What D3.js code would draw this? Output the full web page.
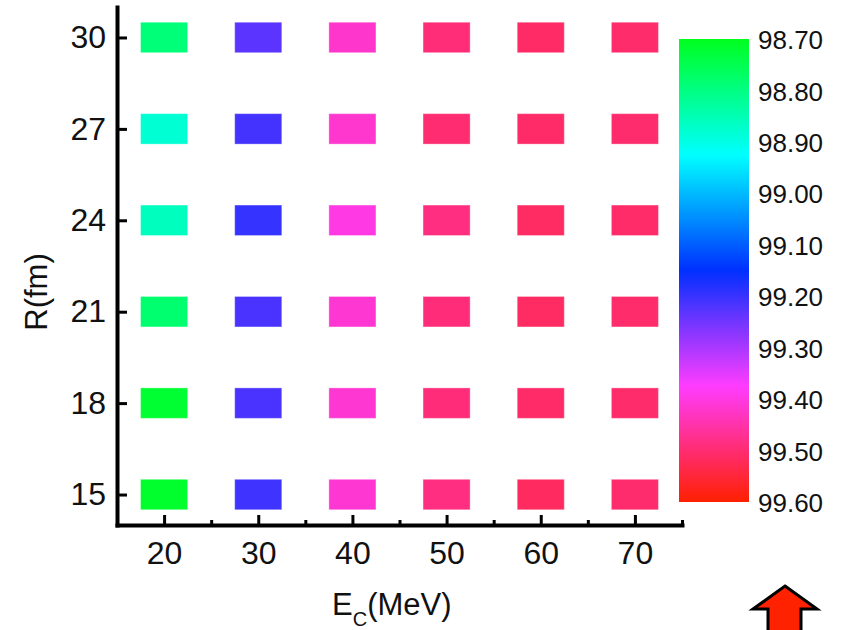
<!DOCTYPE html>
<html>
<head>
<meta charset="utf-8">
<script src="https://cdn.jsdelivr.net/npm/d3@7"></script>
<style>
  body { margin: 0; background: #fff; }
  svg { display: block; font-family: "Liberation Sans", Arial, sans-serif; }
</style>
</head>
<body>
<div id="chart"></div>
<script>
// data
const energies = [20, 30, 40, 50, 60, 70];      // E_C (MeV), columns
const radii = [15, 18, 21, 24, 27, 30];          // R (fm), rows
// values[row][col], rows follow radii
const values = [
  [98.715, 99.205, 99.415, 99.487, 99.515, 99.504], // 15
  [98.72, 99.215, 99.415, 99.493, 99.508, 99.505],  // 18
  [98.78, 99.215, 99.415, 99.493, 99.513, 99.505],  // 21
  [98.86, 99.197, 99.40, 99.487, 99.513, 99.507],   // 24
  [98.88, 99.21, 99.418, 99.50, 99.508, 99.504],    // 27
  [98.79, 99.23, 99.42, 99.494, 99.51, 99.505]      // 30
];
const colorTicks = [98.7, 98.8, 98.9, 99.0, 99.1, 99.2, 99.3, 99.4, 99.5, 99.6];
const colorStops = [98.7, 98.925, 99.15, 99.375, 99.6];
const colorRange = ["#00ff1e", "#00ffff", "#0030ff", "#ff3cff", "#ff2000"];

const width = 844;
const height = 630;

const svg = d3.select("#chart")
  .append("svg")
  .attr("width", width)
  .attr("height", height);

// scales
const x = d3.scaleLinear().domain([15, 75]).range([117, 682]);
const y = d3.scaleLinear().domain([14, 31]).range([525, 7]);
const color = d3.scaleLinear().domain(colorStops).range(colorRange);

// flatten cells
const cells = [];
radii.forEach((r, i) => {
  energies.forEach((e, j) => {
    cells.push({ e: e, r: r, v: values[i][j] });
  });
});

// cells (5 MeV x 1 fm)
svg.append("g")
  .selectAll("rect")
  .data(cells)
  .enter()
  .append("rect")
  .attr("x", d => x(d.e - 2.5))
  .attr("y", d => y(d.r + 0.5))
  .attr("width", d => x(d.e + 2.5) - x(d.e - 2.5))
  .attr("height", d => y(d.r - 0.5) - y(d.r + 0.5))
  .attr("fill", d => color(d.v))
  .attr("stroke", "#fff")
  .attr("stroke-opacity", 0.35)
  .attr("stroke-width", 1);

// axes
const xAxis = d3.axisBottom(x)
  .tickValues(energies)
  .tickSizeInner(-10)
  .tickSizeOuter(0)
  .tickPadding(16)
  .tickFormat(d3.format("d"));

const xMinor = d3.axisBottom(x)
  .tickValues([25, 35, 45, 55, 65, 75])
  .tickSizeInner(-5)
  .tickSizeOuter(0)
  .tickFormat("");

const yAxis = d3.axisLeft(y)
  .tickValues(radii)
  .tickSizeInner(-10)
  .tickSizeOuter(0)
  .tickPadding(11)
  .tickFormat(d3.format("d"));

svg.append("g")
  .attr("transform", "translate(0,525)")
  .call(xAxis);
svg.append("g")
  .attr("transform", "translate(0,525)")
  .call(xMinor)
  .select(".domain").remove();
svg.append("g")
  .attr("transform", "translate(117,0)")
  .call(yAxis);

svg.selectAll(".domain")
  .attr("stroke", "#000")
  .attr("stroke-width", 4)
  .attr("stroke-linecap", "square");
svg.selectAll(".tick line")
  .attr("stroke", "#000")
  .attr("stroke-width", 3);
svg.selectAll(".tick text")
  .attr("font-size", 32)
  .attr("fill", "#111");

// axis titles
const xTitle = svg.append("text")
  .attr("x", 332)
  .attr("y", 615)
  .attr("font-size", 31)
  .attr("fill", "#111");
xTitle.append("tspan").text("E");
xTitle.append("tspan").attr("font-size", 20).attr("dy", 11).text("C");
xTitle.append("tspan").attr("dy", -11).text("(MeV)");

svg.append("text")
  .attr("transform", "translate(47,292) rotate(-90)")
  .attr("text-anchor", "middle")
  .attr("font-size", 31)
  .attr("fill", "#111")
  .text("R(fm)");

// colour bar
const cb = d3.scaleLinear().domain([98.7, 99.6]).range([39, 502]);
const defs = svg.append("defs");
const grad = defs.append("linearGradient")
  .attr("id", "cbar")
  .attr("x1", 0).attr("y1", 0)
  .attr("x2", 0).attr("y2", 1);
grad.selectAll("stop")
  .data(d3.range(0, 1.0001, 0.05))
  .enter()
  .append("stop")
  .attr("offset", d => d)
  .attr("stop-color", d => color(98.7 + d * 0.9));

svg.append("rect")
  .attr("x", 679)
  .attr("y", cb(98.7))
  .attr("width", 70)
  .attr("height", cb(99.6) - cb(98.7))
  .attr("fill", "url(#cbar)");

svg.append("g")
  .selectAll("text")
  .data(colorTicks)
  .enter()
  .append("text")
  .attr("x", 758)
  .attr("y", d => cb(d) + 1)
  .attr("dy", "0.35em")
  .attr("font-size", 26)
  .attr("fill", "#111")
  .text(d => d3.format(".2f")(d));

// red arrow at the bottom right
svg.append("path")
  .attr("d", "M785,586 L817,609 L801,609 L801,640 L768,640 L768,609 L753,609 Z")
  .attr("fill", "#ff2200")
  .attr("stroke", "#000")
  .attr("stroke-width", 3)
  .attr("stroke-linejoin", "miter");
</script>
</body>
</html>
